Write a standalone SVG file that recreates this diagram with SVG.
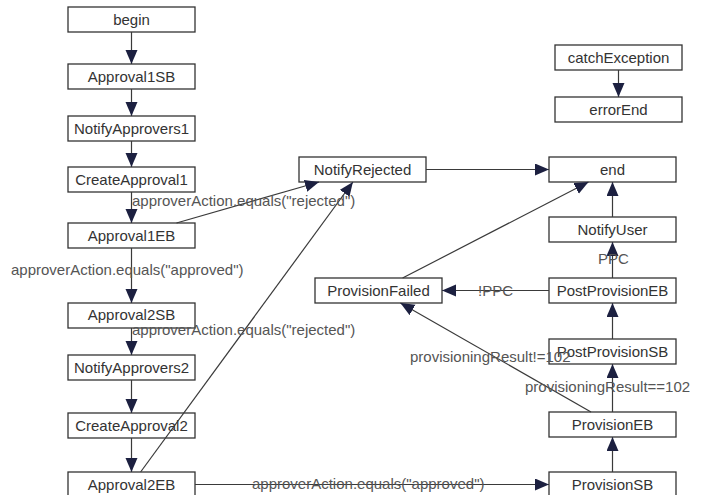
<svg xmlns="http://www.w3.org/2000/svg" width="701" height="495" viewBox="0 0 701 495">
<defs>
<style>
.node rect{fill:#fff;stroke:#333;stroke-width:1.3}
.node text{font-family:"Liberation Sans",Arial,sans-serif;font-size:15px;fill:#333;text-anchor:middle}
.edge{stroke:#3a3a3a;stroke-width:1.2;fill:none;marker-end:url(#arr)}
.lbl{font-family:"Liberation Sans",Arial,sans-serif;font-size:15px;fill:#555}
</style>
<marker id="arr" markerUnits="userSpaceOnUse" markerWidth="15" markerHeight="13" refX="14" refY="6" orient="auto">
<path d="M0,0 L14,6 L0,12 z" fill="#1c2040"/>
</marker>
</defs>
<rect width="701" height="495" fill="#fff"/>
<g id="nodes">
<g id="begin" class="node"><rect x="68" y="7" width="127" height="25"/><text x="131.5" y="25">begin</text></g>
<g id="Approval1SB" class="node"><rect x="68" y="64" width="127" height="25"/><text x="131.5" y="82">Approval1SB</text></g>
<g id="NotifyApprovers1" class="node"><rect x="68" y="116" width="127" height="25"/><text x="131.5" y="134">NotifyApprovers1</text></g>
<g id="CreateApproval1" class="node"><rect x="68" y="167" width="127" height="25"/><text x="131.5" y="185">CreateApproval1</text></g>
<g id="Approval1EB" class="node"><rect x="68" y="223" width="127" height="25"/><text x="131.5" y="241">Approval1EB</text></g>
<g id="Approval2SB" class="node"><rect x="68" y="303" width="127" height="25"/><text x="131.5" y="320">Approval2SB</text></g>
<g id="NotifyApprovers2" class="node"><rect x="68" y="355" width="127" height="25"/><text x="131.5" y="373">NotifyApprovers2</text></g>
<g id="CreateApproval2" class="node"><rect x="68" y="413" width="127" height="25"/><text x="131.5" y="431">CreateApproval2</text></g>
<g id="Approval2EB" class="node"><rect x="68" y="472" width="127" height="25"/><text x="131.5" y="490">Approval2EB</text></g>
<g id="NotifyRejected" class="node"><rect x="299" y="157" width="127" height="25"/><text x="362.5" y="175">NotifyRejected</text></g>
<g id="end" class="node"><rect x="549" y="157" width="127" height="25"/><text x="612.5" y="175">end</text></g>
<g id="NotifyUser" class="node"><rect x="549" y="217" width="127" height="25"/><text x="612.5" y="235">NotifyUser</text></g>
<g id="ProvisionFailed" class="node"><rect x="315" y="278" width="127" height="25"/><text x="378.5" y="296">ProvisionFailed</text></g>
<g id="PostProvisionEB" class="node"><rect x="549" y="278" width="127" height="25"/><text x="612.5" y="296">PostProvisionEB</text></g>
<g id="PostProvisionSB" class="node"><rect x="549" y="339" width="127" height="25"/><text x="612.5" y="357">PostProvisionSB</text></g>
<g id="ProvisionEB" class="node"><rect x="549" y="412" width="127" height="25"/><text x="612.5" y="430">ProvisionEB</text></g>
<g id="ProvisionSB" class="node"><rect x="549" y="472" width="127" height="25"/><text x="612.5" y="490">ProvisionSB</text></g>
<g id="catchException" class="node"><rect x="555" y="45" width="127" height="25"/><text x="618.5" y="63">catchException</text></g>
<g id="errorEnd" class="node"><rect x="555" y="97" width="127" height="25"/><text x="618.5" y="115">errorEnd</text></g>
</g>
<g id="connectors">
<line class="edge" x1="131.5" y1="32" x2="131.5" y2="64"/>
<line class="edge" x1="131.5" y1="89" x2="131.5" y2="116"/>
<line class="edge" x1="131.5" y1="141" x2="131.5" y2="167"/>
<line class="edge" x1="131.5" y1="192" x2="131.5" y2="223"/>
<line class="edge" x1="131.5" y1="248" x2="131.5" y2="303"/>
<line class="edge" x1="131.5" y1="328" x2="131.5" y2="355"/>
<line class="edge" x1="131.5" y1="380" x2="131.5" y2="413"/>
<line class="edge" x1="131.5" y1="438" x2="131.5" y2="472"/>
<line class="edge" x1="176.5" y1="223" x2="319" y2="182"/>
<line class="edge" x1="140.6" y1="472" x2="352.9" y2="182"/>
<line class="edge" x1="195" y1="484.5" x2="549" y2="484.5"/>
<line class="edge" x1="426" y1="169.5" x2="549" y2="169.5"/>
<line class="edge" x1="612.5" y1="472" x2="612.5" y2="437"/>
<line class="edge" x1="612.5" y1="412" x2="612.5" y2="364"/>
<line class="edge" x1="612.5" y1="339" x2="612.5" y2="303"/>
<line class="edge" x1="612.5" y1="278" x2="612.5" y2="242"/>
<line class="edge" x1="612.5" y1="217" x2="612.5" y2="182"/>
<line class="edge" x1="549" y1="290.5" x2="442" y2="290.5"/>
<line class="edge" x1="591" y1="412" x2="400.4" y2="303"/>
<line class="edge" x1="402.6" y1="278" x2="588.5" y2="182"/>
<line class="edge" x1="618.5" y1="70" x2="618.5" y2="97"/>
<text class="lbl" x="132" y="206">approverAction.equals("rejected")</text>
<text class="lbl" x="11" y="275">approverAction.equals("approved")</text>
<text class="lbl" x="132" y="335">approverAction.equals("rejected")</text>
<text class="lbl" x="252" y="489">approverAction.equals("approved")</text>
<text class="lbl" x="410" y="362">provisioningResult!=102</text>
<text class="lbl" x="525" y="392">provisioningResult==102</text>
<text class="lbl" x="478" y="296">!PPC</text>
<text class="lbl" x="598" y="264">PPC</text>
</g>
</svg>
